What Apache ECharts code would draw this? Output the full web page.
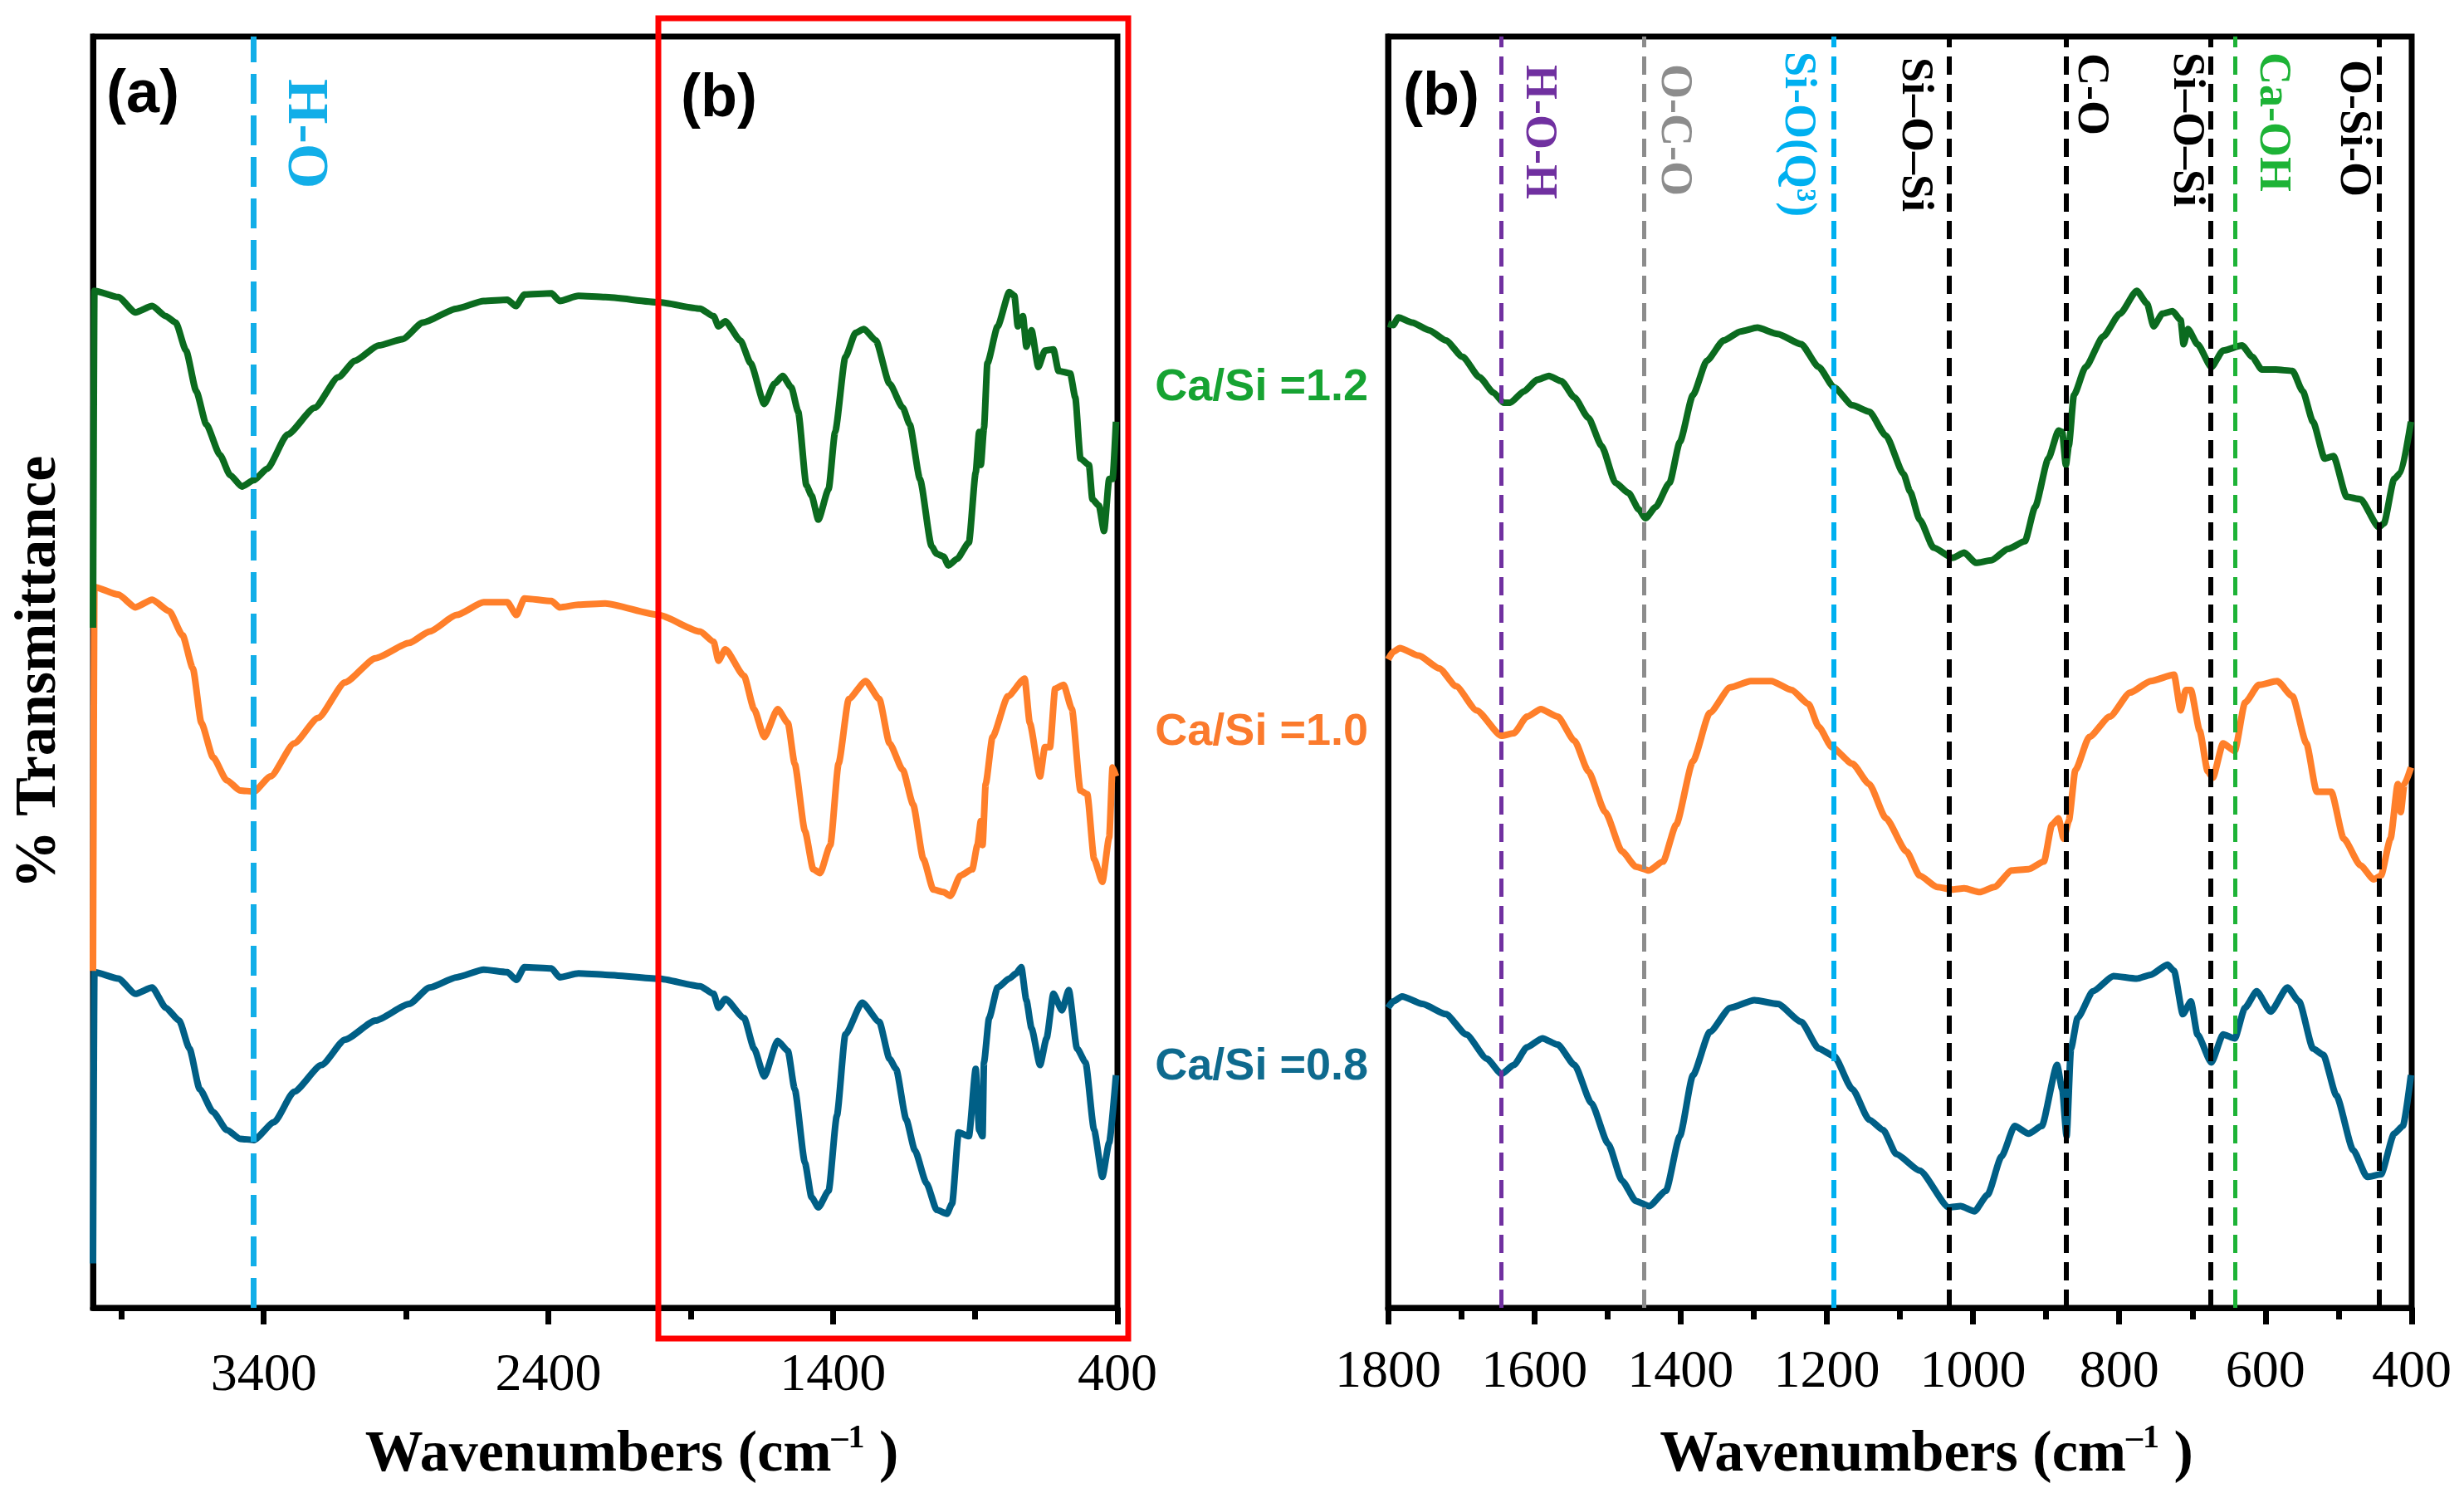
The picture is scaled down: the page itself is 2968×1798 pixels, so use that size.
<!DOCTYPE html>
<html lang="en">
<head>
<meta charset="UTF-8">
<title>FTIR spectra of C-S-H, Ca/Si 0.8-1.2</title>
<script src="https://cdn.jsdelivr.net/npm/echarts@6.0.0/dist/echarts.min.js"></script>
<style>
    html, body {
        margin: 0;
        padding: 0;
        width: 100%;
        height: 100%;
        background: #fff;
        overflow: hidden;
    }
    #chart {
        width: 100%;
        height: 100%;
    }
</style>
</head>
<body>
<div id="chart"></div>
<script>
// ---- data: [wavenumber (cm-1), % transmittance (a.u., curves stacked)] ----
var ratios = ['Ca/Si =1.2', 'Ca/Si =1.0', 'Ca/Si =0.8'];

// panel (a): 4000-400 cm-1
var fullG = [[4000, 53.5], [3995, 80.0], [3911, 79.5], [3851, 78.3], [3792, 78.8], [3744, 78.0], [3709, 77.5], [3673, 75.3], [3637, 72.1], [3602, 69.5], [3554, 67.1], [3518, 65.5], [3477, 64.6], [3435, 65.1], [3388, 66.0], [3316, 68.7], [3221, 70.8], [3138, 73.2], [3079, 74.5], [2996, 75.7], [2912, 76.2], [2841, 77.5], [2722, 78.6], [2627, 79.2], [2544, 79.3], [2514, 78.8], [2484, 79.7], [2389, 79.8], [2360, 79.2], [2294, 79.6], [2200, 79.5], [2013, 79.1], [1867, 78.6], [1819, 78.0], [1802, 77.2], [1778, 77.6], [1725, 76.1], [1689, 74.3], [1641, 71.1], [1605, 72.7], [1576, 73.3], [1546, 72.4], [1522, 70.5], [1493, 64.7], [1475, 63.9], [1451, 62.0], [1415, 64.4], [1392, 68.9], [1356, 74.8], [1320, 76.7], [1291, 77.0], [1249, 76.1], [1201, 72.7], [1154, 70.8], [1130, 69.5], [1094, 65.2], [1053, 59.9], [1035, 59.3], [1011, 59.1], [994, 58.4], [964, 58.9], [922, 60.2], [898, 65.7], [886, 68.9], [880, 66.3], [869, 69.2], [857, 74.3], [821, 77.2], [780, 79.9], [762, 79.6], [750, 77.2], [732, 78.0], [720, 75.6], [702, 76.9], [678, 74.0], [655, 75.3], [625, 75.4], [607, 73.7], [566, 73.5], [548, 71.6], [530, 66.8], [500, 66.3], [488, 63.6], [465, 63.1], [447, 61.1], [429, 65.2], [417, 65.2], [405, 69.7]];
var fullO = [[4000, 26.5], [3995, 56.7], [3911, 56.1], [3851, 55.1], [3792, 55.7], [3732, 54.8], [3685, 52.9], [3649, 50.3], [3619, 46.0], [3578, 43.3], [3530, 41.5], [3483, 40.7], [3435, 40.6], [3376, 41.8], [3293, 44.4], [3209, 46.4], [3114, 49.2], [3007, 51.1], [2889, 52.3], [2817, 53.2], [2722, 54.5], [2627, 55.5], [2544, 55.5], [2512, 54.5], [2484, 55.8], [2389, 55.6], [2360, 55.1], [2294, 55.3], [2200, 55.4], [2013, 54.5], [1867, 53.2], [1819, 52.4], [1802, 50.9], [1778, 51.8], [1712, 49.7], [1677, 47.1], [1641, 44.9], [1594, 47.1], [1558, 46.0], [1534, 42.8], [1498, 37.5], [1469, 34.5], [1445, 34.2], [1409, 36.4], [1380, 42.8], [1344, 47.9], [1285, 49.3], [1237, 47.9], [1201, 44.4], [1154, 42.3], [1118, 39.6], [1082, 35.3], [1047, 32.9], [1011, 32.7], [987, 32.4], [952, 34.0], [910, 34.5], [892, 36.4], [880, 38.3], [874, 36.4], [863, 41.2], [839, 44.9], [785, 48.1], [726, 49.5], [708, 46.0], [672, 41.8], [655, 44.1], [637, 44.1], [619, 48.7], [589, 49.0], [560, 47.1], [530, 40.7], [506, 40.4], [482, 35.3], [453, 33.5], [429, 37.0], [417, 42.5], [405, 41.8]];
var fullB = [[4000, 3.5], [3995, 26.4], [3911, 25.9], [3851, 24.7], [3792, 25.2], [3744, 23.6], [3697, 22.6], [3661, 20.4], [3625, 17.2], [3578, 15.4], [3530, 14.0], [3483, 13.3], [3435, 13.2], [3364, 14.6], [3293, 17.0], [3197, 19.1], [3114, 21.1], [3007, 22.6], [2889, 23.9], [2817, 25.2], [2722, 26.0], [2627, 26.6], [2544, 26.4], [2512, 25.8], [2484, 26.8], [2389, 26.7], [2360, 26.0], [2294, 26.3], [2200, 26.2], [2013, 25.9], [1867, 25.3], [1819, 24.7], [1802, 23.6], [1778, 24.3], [1712, 22.8], [1677, 20.4], [1641, 18.2], [1594, 21.0], [1558, 20.2], [1534, 17.2], [1498, 11.4], [1475, 8.7], [1451, 7.9], [1415, 9.2], [1386, 15.1], [1356, 21.5], [1297, 24.0], [1237, 22.5], [1201, 19.6], [1178, 18.8], [1142, 14.8], [1112, 12.4], [1071, 9.8], [1035, 7.7], [999, 7.4], [981, 8.2], [958, 13.8], [922, 13.5], [898, 18.8], [886, 14.0], [874, 13.5], [869, 19.3], [851, 22.8], [821, 25.2], [780, 25.9], [756, 26.3], [738, 26.8], [720, 24.2], [702, 22.0], [672, 19.1], [649, 21.2], [625, 24.7], [595, 23.4], [571, 25.0], [542, 20.4], [512, 19.3], [482, 14.0], [453, 10.3], [429, 13.0], [405, 18.3]];

// panel (b): 1800-400 cm-1
var zoomG = [[1800, 77.4], [1793, 77.3], [1786, 77.9], [1767, 77.5], [1744, 76.9], [1721, 76.1], [1698, 74.8], [1675, 73.2], [1656, 72.0], [1642, 71.2], [1633, 71.2], [1614, 72.1], [1596, 73.0], [1580, 73.3], [1563, 72.9], [1545, 71.6], [1526, 70.0], [1508, 67.8], [1489, 64.9], [1471, 64.1], [1457, 62.8], [1448, 62.1], [1434, 63.0], [1415, 64.9], [1401, 68.1], [1383, 71.8], [1364, 74.5], [1341, 76.1], [1318, 76.8], [1295, 77.1], [1267, 76.6], [1235, 75.8], [1211, 74.0], [1190, 72.4], [1165, 71.0], [1142, 70.5], [1119, 68.6], [1095, 65.6], [1086, 64.2], [1073, 62.0], [1054, 59.8], [1028, 59.0], [1012, 59.4], [996, 58.6], [975, 58.8], [952, 59.7], [929, 60.3], [915, 63.0], [897, 66.8], [883, 69.0], [878, 68.9], [873, 66.3], [869, 67.8], [862, 71.8], [846, 74.0], [822, 76.4], [799, 78.2], [776, 80.0], [762, 79.0], [753, 77.2], [741, 78.2], [727, 78.4], [716, 77.7], [712, 75.8], [706, 77.0], [693, 75.8], [674, 74.0], [658, 75.3], [632, 75.7], [618, 74.8], [605, 73.8], [586, 73.8], [563, 73.7], [549, 72.1], [535, 69.7], [519, 66.8], [507, 67.0], [489, 63.8], [470, 63.6], [445, 61.4], [438, 61.7], [424, 65.2], [415, 65.7], [401, 69.7]];
var zoomO = [[1800, 51.0], [1793, 51.6], [1784, 51.9], [1758, 51.3], [1730, 50.3], [1707, 48.9], [1679, 47.0], [1645, 45.0], [1628, 45.2], [1610, 46.5], [1591, 47.1], [1568, 46.5], [1545, 44.6], [1526, 42.2], [1503, 39.0], [1480, 35.9], [1461, 34.7], [1443, 34.4], [1424, 35.1], [1406, 38.0], [1383, 43.0], [1360, 46.8], [1332, 48.8], [1304, 49.3], [1276, 49.3], [1248, 48.6], [1225, 47.5], [1211, 45.7], [1193, 44.1], [1165, 42.8], [1142, 41.2], [1119, 38.5], [1091, 35.9], [1073, 34.0], [1049, 33.1], [1028, 32.9], [1012, 33.0], [991, 32.7], [971, 33.1], [947, 34.4], [924, 34.5], [903, 35.1], [892, 38.0], [883, 38.5], [876, 36.9], [869, 38.3], [860, 42.3], [841, 44.9], [813, 46.5], [785, 48.4], [757, 49.3], [725, 49.8], [716, 47.0], [709, 48.6], [702, 48.6], [690, 45.4], [679, 42.2], [672, 41.7], [658, 44.4], [642, 43.8], [628, 47.6], [609, 49.0], [584, 49.3], [563, 48.1], [544, 44.4], [530, 40.6], [510, 40.6], [493, 36.9], [470, 34.8], [452, 33.7], [442, 34.0], [429, 36.9], [419, 41.2], [415, 39.0], [410, 41.2], [401, 42.5]];
var zoomB = [[1800, 23.6], [1793, 24.1], [1781, 24.5], [1753, 23.9], [1721, 23.1], [1693, 21.5], [1665, 19.6], [1645, 18.4], [1628, 19.1], [1610, 20.5], [1589, 21.2], [1568, 20.7], [1545, 19.1], [1522, 16.1], [1499, 12.9], [1480, 10.0], [1461, 8.4], [1443, 8.0], [1420, 9.2], [1401, 13.5], [1383, 18.3], [1360, 21.7], [1332, 23.6], [1299, 24.2], [1267, 23.9], [1235, 22.5], [1211, 20.4], [1190, 19.8], [1165, 17.2], [1142, 14.8], [1123, 14.0], [1105, 12.1], [1073, 10.8], [1033, 7.9], [1017, 8.0], [998, 7.6], [980, 8.9], [961, 11.9], [943, 14.3], [924, 13.7], [906, 14.3], [885, 19.1], [878, 17.2], [872, 13.5], [866, 20.4], [857, 22.8], [836, 24.9], [808, 26.1], [776, 25.9], [757, 26.2], [734, 27.0], [725, 26.5], [713, 23.1], [702, 24.1], [693, 21.5], [674, 19.3], [658, 21.5], [642, 21.2], [628, 23.6], [612, 24.9], [593, 23.3], [570, 25.2], [554, 24.1], [535, 20.4], [521, 19.9], [503, 16.7], [480, 12.4], [461, 10.3], [442, 10.5], [424, 13.7], [412, 14.3], [401, 18.3]];

// band assignments
var hoWn = 3435;
var bandWn = [1645, 1450, 1190, 1033, 873, 675, 641, 445];
var bandNames = ['H-O-H', 'O-C-O', 'Si-O(Q³)', 'Si–O–Si', 'C-O', 'Si–O–Si', 'Ca-OH', 'O-Si-O'];

// axis ticks
var ticksA = [3400, 2400, 1400, 400];
var minorTicksA = [3900, 2900, 1900, 900];

// ---- styling ----
var lineColors = ['#0b6b1f', '#ff7f2a', '#005f86'];
var labelColors = ['#16a332', '#fb7a2c', '#0e6a8e'];
var bandColors = ['#7030a0', '#8c8c8c', '#00b0f0', '#000000', '#000000', '#000000', '#1db336', '#000000'];
var bandWidths = [5, 5, 6, 6, 6, 6, 5, 6];
var bandDx = [44, 36, -44, -42, 30, -30, 44, -31];
var bandTop = [78, 77, 62, 69, 64, 63, 63, 72];

var SERIF = '"Liberation Serif", "Times New Roman", serif';
var SANS = '"Liberation Sans", Arial, sans-serif';
var AX = 7;

var chart = echarts.init(document.getElementById('chart'));

function nameStyle() {
    return {
        padding: [0, 0, 0, 64],
        rich: {
            a: { fontFamily: SERIF, fontWeight: 'bold', fontSize: 70, color: '#000', lineHeight: 80 },
            s: { fontFamily: SERIF, fontWeight: 'bold', fontSize: 40, color: '#000', lineHeight: 80, verticalAlign: 'top', padding: [0, 0, 26, 0] }
        }
    };
}
var axisName = '{a|Wavenumbers (cm}{s|–1}{a| )}';
function plain(v) { return String(v); }

function yAx(grid, withName) {
    return {
        type: 'value', gridIndex: grid, min: 0, max: 100,
        name: withName ? '% Transmittance' : '',
        nameLocation: 'middle', nameGap: 24,
        nameTextStyle: { fontFamily: SERIF, fontWeight: 'bold', fontSize: 70, color: '#000', lineHeight: 80 },
        axisLine: { show: true, lineStyle: { color: '#000', width: AX } },
        axisTick: { show: false }, axisLabel: { show: false }, splitLine: { show: false }
    };
}

function lineSeries(name, xi, yi, data, color) {
    return {
        name: name, type: 'line', xAxisIndex: xi, yAxisIndex: yi, data: data,
        showSymbol: false, smooth: 0.2, smoothMonotone: 'x',
        lineStyle: { color: color, width: 8 }, itemStyle: { color: color }, z: 3
    };
}

var option = {
    backgroundColor: '#fff',
    animation: false,
    grid: [
        { left: 112, top: 44, width: 1234, height: 1531, show: true, borderColor: '#000', borderWidth: AX, backgroundColor: 'transparent' },
        { left: 1672, top: 44, width: 1233, height: 1531, show: true, borderColor: '#000', borderWidth: AX, backgroundColor: 'transparent' }
    ],
    xAxis: [
        {
            type: 'value', gridIndex: 0, min: 400, max: 4000, inverse: true, position: 'bottom',
            name: axisName, nameLocation: 'middle', nameGap: 138, nameTextStyle: nameStyle(),
            axisLine: { lineStyle: { color: '#000', width: AX } },
            axisTick: { customValues: ticksA, length: 20, lineStyle: { color: '#000', width: AX } },
            axisLabel: { customValues: ticksA, formatter: plain, margin: 50, fontFamily: SERIF, fontSize: 64, color: '#000' },
            splitLine: { show: false }
        },
        {
            type: 'value', gridIndex: 0, min: 400, max: 4000, inverse: true, position: 'bottom',
            axisLine: { show: false },
            axisTick: { customValues: minorTicksA, length: 14, lineStyle: { color: '#000', width: AX } },
            axisLabel: { show: false }, splitLine: { show: false }
        },
        {
            type: 'value', gridIndex: 1, min: 400, max: 1800, interval: 200, inverse: true, position: 'bottom',
            name: axisName, nameLocation: 'middle', nameGap: 138, nameTextStyle: nameStyle(),
            axisLine: { lineStyle: { color: '#000', width: AX } },
            axisTick: { length: 20, lineStyle: { color: '#000', width: AX } },
            minorTick: { show: true, splitNumber: 2, length: 14, lineStyle: { color: '#000', width: AX } },
            axisLabel: { formatter: plain, margin: 46, fontFamily: SERIF, fontSize: 64, color: '#000' },
            splitLine: { show: false }, minorSplitLine: { show: false }
        }
    ],
    yAxis: [yAx(0, true), yAx(1, false)],
    series: [
        lineSeries(ratios[2], 0, 0, fullB, lineColors[2]),
        lineSeries(ratios[1], 0, 0, fullO, lineColors[1]),
        lineSeries(ratios[0], 0, 0, fullG, lineColors[0]),
        lineSeries(ratios[2], 2, 1, zoomB, lineColors[2]),
        lineSeries(ratios[1], 2, 1, zoomO, lineColors[1]),
        lineSeries(ratios[0], 2, 1, zoomG, lineColors[0])
    ]
};

// dashed band markers
option.series[2].markLine = {
    silent: true, symbol: ['none', 'none'], label: { show: false },
    data: [{ xAxis: hoWn, lineStyle: { color: '#12aee8', width: 7, type: [36, 14] } }]
};
option.series[5].markLine = {
    silent: true, symbol: ['none', 'none'], label: { show: false },
    data: bandWn.map(function (w, i) {
        return { xAxis: w, lineStyle: { color: bandColors[i], width: bandWidths[i], type: [22, 11] } };
    })
};

chart.setOption(option);

// text annotations placed from the axis scales
var g = [];
g.push({
    type: 'text', x: chart.convertToPixel({ xAxisIndex: 0 }, hoWn) + 60, y: 95, rotation: -Math.PI / 2,
    style: { text: 'H-O', font: 'bold 70px ' + SERIF, fill: '#12aee8', align: 'left', verticalAlign: 'middle', textAlign: 'left', textVerticalAlign: 'middle' }, z: 50
});
bandWn.forEach(function (w, i) {
    g.push({
        type: 'text', x: chart.convertToPixel({ xAxisIndex: 2 }, w) + bandDx[i], y: bandTop[i], rotation: -Math.PI / 2,
        style: { text: bandNames[i], font: 'bold 54px ' + SERIF, fill: bandColors[i], align: 'left', verticalAlign: 'middle', textAlign: 'left', textVerticalAlign: 'middle' }, z: 50
    });
});
var labelY = [467, 882, 1285];
ratios.forEach(function (r, i) {
    g.push({
        type: 'text', x: 1648, y: labelY[i],
        style: { text: r, font: 'bold 54px ' + SANS, fill: labelColors[i], align: 'right', verticalAlign: 'middle', textAlign: 'right', textVerticalAlign: 'middle' }, z: 50
    });
});
[['(a)', 128, 115], ['(b)', 820, 120], ['(b)', 1690, 118]].forEach(function (p) {
    g.push({
        type: 'text', x: p[1], y: p[2],
        style: { text: p[0], font: 'bold 72px ' + SANS, fill: '#000', align: 'left', verticalAlign: 'middle', textAlign: 'left', textVerticalAlign: 'middle' }, z: 50
    });
});
// red highlight box over panel (a)
g.push({
    type: 'rect', shape: { x: 793, y: 22, width: 566, height: 1590 },
    style: { fill: 'none', stroke: '#ff0000', lineWidth: 7 }, z: 60
});
chart.setOption({ graphic: g });
</script>
</body>
</html>
